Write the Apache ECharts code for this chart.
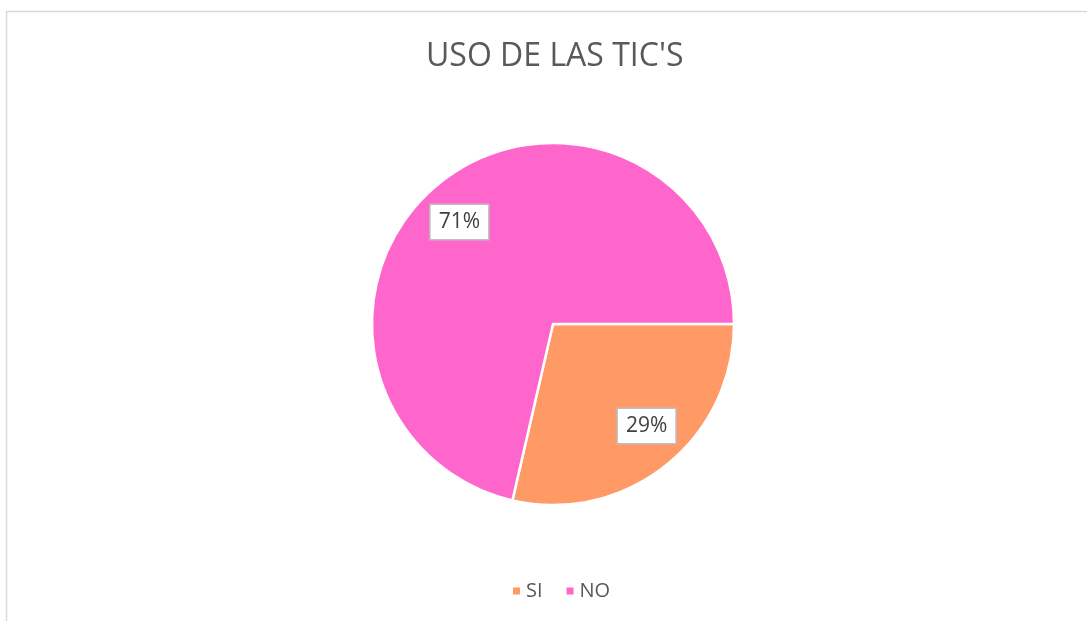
<!DOCTYPE html>
<html>
<head>
<meta charset="utf-8">
<script src="https://cdn.jsdelivr.net/npm/echarts@6/dist/echarts.min.js"></script>
<style>
  html, body { margin: 0; padding: 0; background: #fff; }
  #chart { width: 1087px; height: 621px; }
</style>
</head>
<body>
<div id="chart"></div>
<script>
  // data
  const categories = ['SI', 'NO'];
  const values = [28.6, 71.4];
  const colors = ['#FF9966', '#FF66CC'];

  const pieData = categories.map((name, i) => ({ name: name, value: values[i], itemStyle: { color: colors[i] } }));
  const total = values.reduce((a, b) => a + b, 0);

  let myChart = echarts.init(document.getElementById('chart'));
  let option = {
    backgroundColor: '#fff',
    animation: false,
    title: {
      text: "USO DE LAS TIC'S",
      left: 421,
      top: 36,
      textStyle: { fontFamily: 'Open Sans', fontSize: 32, fontWeight: 'normal', color: '#595959' }
    },
    graphic: [
      {
        type: 'rect',
        shape: { x: 6.5, y: 11.5, width: 1200, height: 800 },
        style: { fill: 'none', stroke: '#d9d9d9', lineWidth: 1.5 },
        silent: true
      }
    ],
    legend: {
      data: categories,
      left: 506,
      top: 576,
      icon: 'rect',
      itemWidth: 9,
      itemHeight: 9,
      itemGap: 22,
      textStyle: { fontFamily: 'Open Sans', fontSize: 20, color: '#595959' }
    },
    series: [
      {
        name: 'main',
        type: 'pie',
        center: [553, 324],
        radius: [0, 181],
        startAngle: 0,
        clockwise: true,
        itemStyle: { borderColor: '#fff', borderWidth: 2.5 },
        label: { show: false },
        labelLine: { show: false },
        emphasis: { disabled: true },
        data: pieData
      },
      {
        // transparent ring only used to put the labels at ~3/4 radius
        name: 'labels',
        type: 'pie',
        center: [553, 324],
        radius: [90, 181],
        startAngle: 4,
        clockwise: true,
        silent: true,
        itemStyle: { color: 'transparent', borderWidth: 0 },
        labelLine: { show: false },
        emphasis: { disabled: true },
        label: {
          show: true,
          position: 'inside',
          formatter: p => Math.round(p.value / total * 100) + '%',
          fontFamily: 'Open Sans',
          fontSize: 21,
          color: '#404040',
          backgroundColor: '#fff',
          borderColor: '#bfbfbf',
          borderWidth: 1.5,
          padding: [7, 8, 6, 8]
        },
        data: categories.map((name, i) => ({ name: name, value: values[i] }))
      }
    ]
  };
  myChart.setOption(option);
</script>
</body>
</html>
